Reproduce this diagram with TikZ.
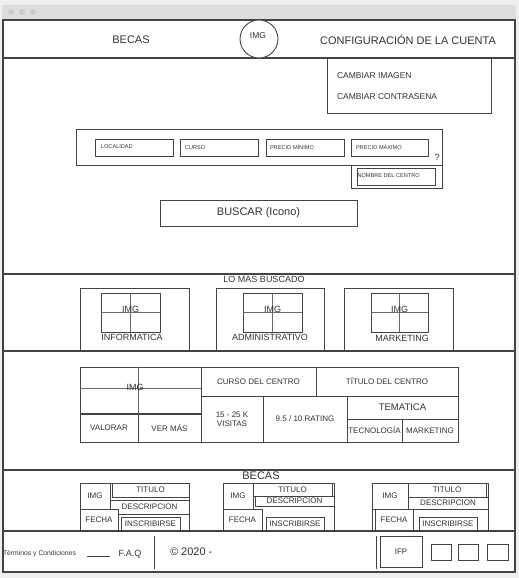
\documentclass[tikz,border=0pt]{standalone}
\usepackage{fontspec}
\setmainfont{Liberation Sans}
\definecolor{bgc}{HTML}{EFEFEF}
\definecolor{barc}{HTML}{DDDDDD}
\definecolor{dotc}{HTML}{CCCCCC}
\definecolor{lc}{HTML}{444444}
\definecolor{tc}{HTML}{333333}
\newcommand\fs[1]{\fontsize{#1}{#1}\selectfont}
\tikzset{
  box/.style={draw=lc, line width=0.9pt, fill=white, inner sep=0pt, outer sep=0pt, text=tc, font=\fs{8}, align=center},
  txt/.style={inner sep=0pt, outer sep=0pt, text=tc, align=center},
  sep/.style={draw=lc, line width=1.8pt},
  thinsep/.style={draw=lc, line width=1.1pt},
  crossl/.style={draw=lc!80, line width=0.7pt},
}
\newcommand\bx[7][]{\node[box,minimum width={(#5)-(#3)},minimum height={(#6)-(#4)},#1] (#2) at ({((#3)+(#5))/2},{((#4)+(#6))/2}) {#7};}
\begin{document}
\begin{tikzpicture}[x=1pt,y=-1pt]
\useasboundingbox (0,0) rectangle (519,578);
\fill[bgc] (0,0) rectangle (519,578);
% browser bar
\fill[barc, rounded corners=2pt] (2,5) rectangle (516,21);
\foreach \i/\xx in {1/11,2/22,3/33} \fill[dotc] (\xx,12) circle (3);
% frame
\bx[line width=1.3pt]{frame}{3}{20}{515}{572}{}
% header
\draw[thinsep] (3,58) coordinate (h1) -- (515,58) coordinate (h2);
\node[txt, font=\fs{11}] (becas) at (131,39.5) {BECAS};
\node[txt, font=\fs{11}] (config) at (408,39.5) {CONFIGURACIÓN DE LA CUENTA};
\node[circle, draw=lc, line width=0.9pt, fill=white, minimum size=38pt, inner sep=0pt] (logo) at (259,39) {};
\node[txt, font=\fs{8.5}] (logotxt) at (258,36) {IMG};
% dropdown
\bx{menu}{327}{58}{491}{113}{}
\node[txt, anchor=west, font=\fs{8.5}] (m1) at (337,75.5) {CAMBIAR IMAGEN};
\node[txt, anchor=west, font=\fs{8.5}] (m2) at (337,96.5) {CAMBIAR CONTRASENA};
% filters
\bx{filt}{76}{129}{442}{165}{}
\bx{f1}{95}{139}{173}{156}{}
\bx{f2}{180}{139}{258}{156}{}
\bx{f3}{266}{139}{344}{156}{}
\bx{f4}{351}{139}{428}{156}{}
\node[txt, anchor=west, font=\fs{5.6}] (t1) at (101,146.5) {LOCALIDAD};
\node[txt, anchor=west, font=\fs{5.6}] (t2) at (185,147.5) {CURSO};
\node[txt, anchor=west, font=\fs{5.6}] (t3) at (270,147.5) {PRECIO MÍNIMO};
\node[txt, anchor=west, font=\fs{5.6}] (t4) at (356,147.5) {PRECIO MÁXIMO};
\node[txt, font=\fs{9}] (q) at (437,157) {?};
\bx{nomo}{351}{165}{442}{188}{}
\bx{nomi}{357}{168}{435}{185}{}
\node[txt, anchor=west, font=\fs{5.6}] (nomt) at (357.5,176) {NOMBRE DEL CENTRO};
\bx[font=\fs{11}]{buscar}{160}{200}{357}{226}{BUSCAR (Icono)}
% section separators
\draw[sep] (3,274) coordinate (s1a) -- (515,274) coordinate (s1b);
\draw[thinsep] (3,351) coordinate (s2a) -- (515,351) coordinate (s2b);
\draw[sep] (3,470) coordinate (s3a) -- (515,470) coordinate (s3b);
\draw[sep] (3,531) coordinate (s4a) -- (515,531) coordinate (s4b);
% lo mas buscado
\node[txt, font=\fs{9}] (lmb) at (264,279.5) {LO MAS BUSCADO};
\foreach \n/\a/\b/\ia/\ib/\lab/\lx/\ly in {1/80/189/101/160/INFORMATICA/132/337, 2/216/324/243/302/ADMINISTRATIVO/270/337, 3/344/453/371/428/MARKETING/402/338}{
  \bx{card\n}{\a}{288}{\b}{351}{}
  \bx{cimg\n}{\ia}{293}{\ib}{332}{}
  \draw[crossl] (cimg\n.north) -- (cimg\n.south);
  \draw[crossl] (cimg\n.west) -- (cimg\n.east);
  \node[txt, font=\fs{9}] (cimgt\n) at ({(\ia+\ib)/2},309) {IMG};
  \node[txt, font=\fs{9}] (clab\n) at (\lx,\ly) {\lab};
}
\draw[thinsep] (s2a) -- (s2b);
% middle table
\bx{timg}{80}{367}{201}{414}{}
\draw[crossl] (138,367) coordinate (tv1) -- (138,414) coordinate (tv2);
\draw[crossl] (80,388) coordinate (th1) -- (201,388) coordinate (th2);
\node[txt, font=\fs{9}] (timgt) at (135,387) {IMG};
\bx{valorar}{80}{414}{138}{442}{VALORAR}
\bx{vermas}{138}{414}{201}{442}{VER MÁS}
\draw[draw=lc, line width=1.6pt] (valorar.north west) -- (vermas.north east);
\bx{curso}{201}{367}{316}{396}{CURSO DEL CENTRO}
\bx{titulo}{316}{367}{458}{396}{TÍTULO DEL CENTRO}
\bx[font=\fontsize{8}{9.5}\selectfont]{visitas}{201}{396}{263}{442}{15 - 25 K\\VISITAS}
\bx{rating}{263}{396}{347}{442}{9.5 / 10 RATING}
\bx[font=\fs{9.5}]{tema}{347}{396}{458}{419}{TEMATICA}
\bx{tecno}{347}{419}{402}{442}{TECNOLOGÍA}
\bx{mkt}{402}{419}{458}{442}{MARKETING}
% becas
\node[txt, font=\fs{11}] (becast) at (261,476) {BECAS};
% card 1
\bx{b1out}{80}{483}{189}{531}{}
\bx{b1img}{80}{483}{110}{509}{IMG}
\bx{b1tio}{110}{483}{189}{500}{}
\bx{b1ti}{112}{483}{189}{497}{TITULO}
\bx{b1de}{110}{500}{189}{514}{DESCRIPCION}
\bx{b1fe}{80}{509}{118}{531}{FECHA}
\bx{b1ino}{118}{514}{189}{531}{}
\bx{b1in}{121}{517}{180}{531}{INSCRIBIRSE}
% card 2
\bx{b2out}{223}{483}{334}{531}{}
\bx{b2img}{223}{483}{253}{509}{IMG}
\bx{b2ti}{253}{483}{332}{496}{TITULO}
\bx{b2de}{255}{496}{334}{506}{DESCRIPCION}
\bx{b2fe}{223}{509}{262}{531}{FECHA}
\bx{b2in}{266}{517}{324}{531}{INSCRIBIRSE}
% card 3
\bx{b3out}{372}{483}{488}{531}{}
\draw[draw=lc, line width=0.9pt] (375,509) coordinate (b3l1) -- (375,531) coordinate (b3l2);
\bx{b3img}{372}{483}{408}{509}{IMG}
\bx{b3ti}{408}{483}{486}{497}{TITULO}
\bx{b3de}{408}{497}{488}{509}{DESCRIPCION}
\bx{b3fe}{375}{509}{413}{531}{FECHA}
\bx{b3in}{419}{517}{477}{531}{INSCRIBIRSE}
\draw[sep] (s4a) -- (s4b);
% footer
\node[txt, anchor=west, font=\fs{6.8}] (terms) at (3,554) {Términos y Condiciones};
\draw[draw=lc, line width=0.7pt] (87,556) coordinate (fl1) -- (110,556) coordinate (fl2);
\node[txt, font=\fs{9}] (faq) at (130,554) {F.A.Q};
\draw[draw=lc, line width=0.9pt] (154,536) coordinate (v1a) -- (154,569) coordinate (v1b);
\node[txt, anchor=west, font=\fs{11}] (copy) at (170,552) {© 2020 -};
\draw[draw=lc, line width=0.9pt] (376,536) coordinate (v2a) -- (376,569) coordinate (v2b);
\bx{ifp}{380}{536}{422}{567}{IFP}
\bx{sq1}{431}{544}{451}{560}{}
\bx{sq2}{458}{544}{478}{560}{}
\bx{sq3}{487}{544}{508}{560}{}
\end{tikzpicture}
\end{document}
